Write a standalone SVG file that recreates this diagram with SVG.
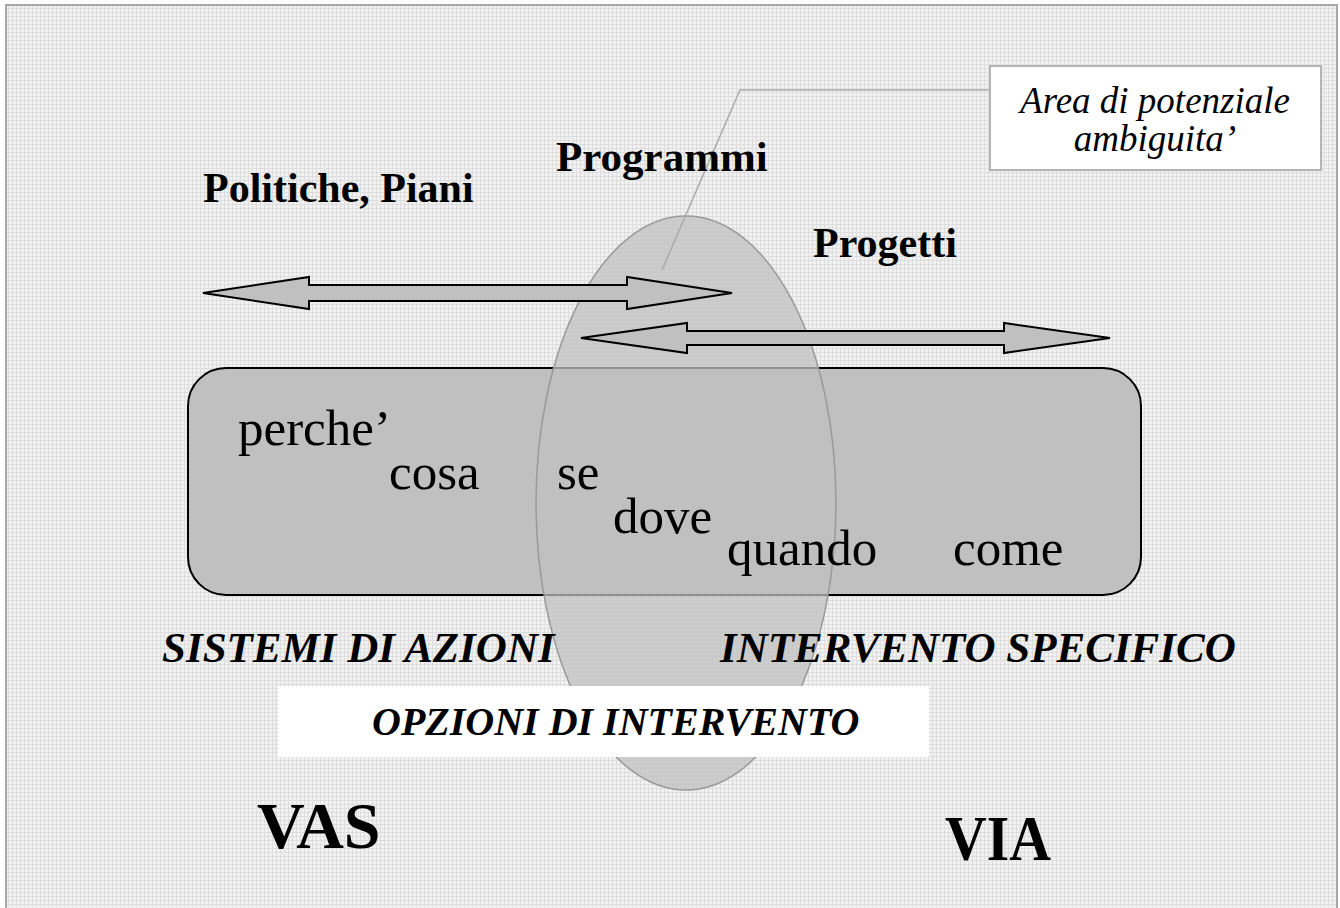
<svg xmlns="http://www.w3.org/2000/svg" width="1340" height="908" viewBox="0 0 1340 908">
<defs>
<pattern id="grid" width="4" height="4" patternUnits="userSpaceOnUse">
<rect width="4" height="4" fill="#f1f1f1"/>
<rect x="0" y="0" width="4" height="1" fill="#dedede"/>
<rect x="0" y="0" width="1" height="4" fill="#dedede"/>
</pattern>
<style>
.serif{font-family:"Liberation Serif","Times New Roman",serif;fill:#000}
.i{font-style:italic}
.arrow{fill:#c0c0c0;stroke:#000;stroke-width:2;stroke-linejoin:miter}
.word{font-size:51px}
.lbl{font-size:42px;font-weight:bold}
.cap{font-size:43px;font-weight:bold;font-style:italic}
.big{font-size:66px;font-weight:bold}
</style>
</defs>
<rect width="1340" height="908" fill="#ffffff"/>
<rect x="6" y="5" width="1331" height="910" fill="url(#grid)" stroke="#a8a8a8" stroke-width="2"/>

<g id="actions-box">
<rect x="188" y="368" width="953" height="227" rx="38" ry="38" fill="#c0c0c0" stroke="#000" stroke-width="2"/>
</g>

<g id="ambiguity-area">
<ellipse cx="686" cy="503" rx="150" ry="287" fill="#c0c0c0" fill-opacity="0.75" stroke="#999" stroke-width="1.5"/>
</g>

<g id="connectors">
<polygon class="arrow" points="203,293 309,277 309,285 627,285 627,277 732,293 627,309 627,301 309,301 309,309"/>
<polygon class="arrow" points="581,338 687,323 687,331 1004,331 1004,323 1110,338 1004,353 1004,345 687,345 687,353"/>
<polyline points="990,90 740,90 662,270" fill="none" stroke="#aaaaaa" stroke-width="1.5"/>
</g>

<g id="callout">
<rect x="990" y="66" width="331" height="104" fill="#ffffff" stroke="#b4b4b4" stroke-width="2"/>
<text class="serif i" x="1155" y="113" style="font-size:37px" text-anchor="middle">Area di potenziale</text>
<text class="serif i" x="1155" y="151" style="font-size:37px" text-anchor="middle">ambiguita’</text>
</g>

<g id="label-politiche"><text class="serif lbl" x="203" y="202">Politiche, Piani</text></g>
<g id="label-programmi"><text class="serif lbl" x="556" y="171" style="font-size:43px">Programmi</text></g>
<g id="label-progetti"><text class="serif lbl" x="813" y="257">Progetti</text></g>

<g id="words">
<text class="serif word" x="238" y="445">perche’</text>
<text class="serif word" x="389" y="489">cosa</text>
<text class="serif word" x="557" y="489">se</text>
<text class="serif word" x="613" y="533">dove</text>
<text class="serif word" x="727" y="565">quando</text>
<text class="serif word" x="953" y="565">come</text>
</g>

<g id="label-sistemi"><text class="serif cap" x="162" y="662">SISTEMI DI AZIONI</text></g>
<g id="label-intervento"><text class="serif cap" x="720" y="662">INTERVENTO SPECIFICO</text></g>

<g id="opzioni">
<rect x="278" y="686" width="651" height="71" fill="#ffffff"/>
<text class="serif cap" x="372" y="735" style="font-size:40px">OPZIONI DI INTERVENTO</text>
</g>

<g id="label-vas"><text class="serif big" x="257" y="848">VAS</text></g>
<g id="label-via"><text class="serif big" x="945" y="860" style="font-size:64px" textLength="106" lengthAdjust="spacingAndGlyphs">VIA</text></g>
</svg>
